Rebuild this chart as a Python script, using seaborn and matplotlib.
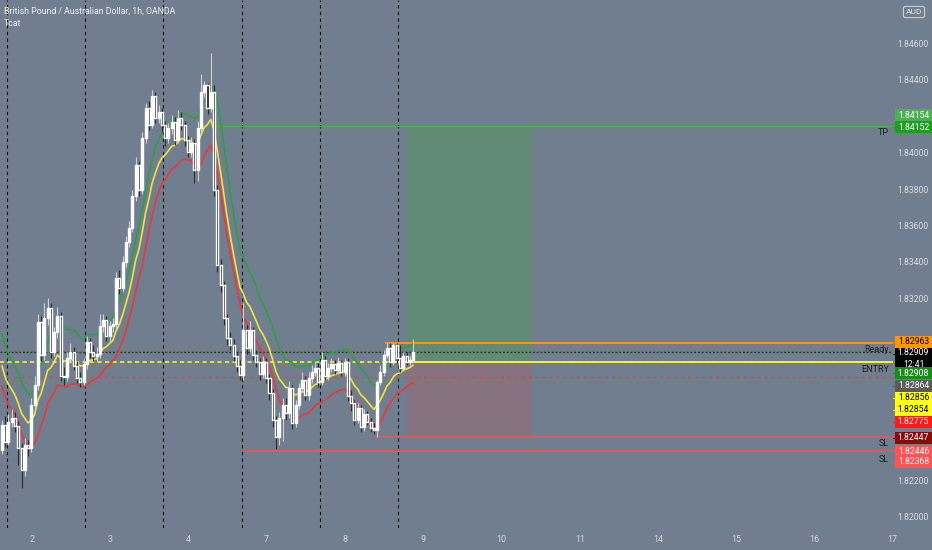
"""
GBP/AUD 1h candles with Tcat bands and a long-position box, TradingView style.
"""
import numpy as np
import pandas as pd
import matplotlib
matplotlib.use("Agg")
import matplotlib.pyplot as plt
from matplotlib.patches import Rectangle, FancyBboxPatch
import seaborn as sns

# ---------------------------------------------------------------------------
# Data
# ---------------------------------------------------------------------------
first_open = 1.82375
closes = [
    1.82511, 1.82417, 1.82527, 1.82549, 1.82505, 1.82385, 1.82264, 1.82401, 1.82385, 1.82621,
    1.82730, 1.83076, 1.82895, 1.83098, 1.83153, 1.82912, 1.83021, 1.83109, 1.82780, 1.82774,
    1.82879, 1.82912, 1.82835, 1.82769, 1.82747, 1.82846, 1.82966, 1.82912, 1.82890, 1.82901,
    1.83054, 1.83087, 1.82999, 1.83054, 1.83065, 1.83318, 1.83263, 1.83406, 1.83515, 1.83592,
    1.83768, 1.83938, 1.83801, 1.84086, 1.84251, 1.84158, 1.84317, 1.84196, 1.84229, 1.84158,
    1.84086, 1.84141, 1.84174, 1.84075, 1.84196, 1.84158, 1.84075, 1.84010, 1.84059, 1.83911,
    1.84141, 1.84339, 1.84377, 1.84251, 1.84339, 1.83801, 1.83389, 1.83279, 1.83098, 1.82988,
    1.82950, 1.82890, 1.82835, 1.82785, 1.83032, 1.82934, 1.83032, 1.82895, 1.82857, 1.82791,
    1.82857, 1.82769, 1.82686, 1.82538, 1.82445, 1.82549, 1.82621, 1.82577, 1.82714, 1.82522,
    1.82621, 1.82714, 1.82758, 1.82675, 1.82769, 1.82802, 1.82824, 1.82747, 1.82868, 1.82780,
    1.82824, 1.82846, 1.82813, 1.82851, 1.82802, 1.82857, 1.82670, 1.82632, 1.82538, 1.82604,
    1.82500, 1.82571, 1.82527, 1.82494, 1.82483, 1.82747, 1.82802, 1.82895, 1.82934, 1.82857,
    1.82950, 1.82879, 1.82824, 1.82890, 1.82857, 1.82868, 1.82909,
]
highs = [
    1.82540, 1.82560, 1.82570, 1.82600, 1.82580, 1.82530, 1.82410, 1.82440, 1.82430, 1.82660,
    1.82780, 1.83120, 1.83110, 1.83180, 1.83210, 1.83180, 1.83050, 1.83160, 1.83130, 1.82830,
    1.82910, 1.82960, 1.82940, 1.82860, 1.82800, 1.82880, 1.83000, 1.82990, 1.82950, 1.82940,
    1.83120, 1.83120, 1.83110, 1.83080, 1.83100, 1.83350, 1.83360, 1.83440, 1.83550, 1.83630,
    1.83800, 1.83980, 1.83960, 1.84120, 1.84280, 1.84290, 1.84350, 1.84340, 1.84270, 1.84250,
    1.84180, 1.84170, 1.84210, 1.84200, 1.84240, 1.84230, 1.84180, 1.84100, 1.84090, 1.84080,
    1.84180, 1.84440, 1.84400, 1.84390, 1.84553, 1.84380, 1.83830, 1.83420, 1.83300, 1.83120,
    1.83020, 1.82980, 1.82910, 1.82870, 1.83180, 1.83060, 1.83080, 1.83050, 1.82920, 1.82880,
    1.82890, 1.82880, 1.82790, 1.82710, 1.82560, 1.82580, 1.82660, 1.82660, 1.82750, 1.82730,
    1.82650, 1.82740, 1.82800, 1.82780, 1.82800, 1.82840, 1.82860, 1.82850, 1.82910, 1.82890,
    1.82850, 1.82880, 1.82870, 1.82885, 1.82870, 1.82880, 1.82880, 1.82700, 1.82650, 1.82630,
    1.82620, 1.82600, 1.82590, 1.82550, 1.82520, 1.82760, 1.82840, 1.82920, 1.82963, 1.82960,
    1.82963, 1.82960, 1.82950, 1.82910, 1.82910, 1.82890, 1.82980,
]
lows = [
    1.82350, 1.82390, 1.82400, 1.82500, 1.82470, 1.82290, 1.82166, 1.82230, 1.82340, 1.82360,
    1.82590, 1.82700, 1.82860, 1.82870, 1.83060, 1.82880, 1.82890, 1.82990, 1.82750, 1.82730,
    1.82750, 1.82850, 1.82810, 1.82740, 1.82720, 1.82730, 1.82820, 1.82880, 1.82860, 1.82860,
    1.82880, 1.83020, 1.82970, 1.82970, 1.83020, 1.83040, 1.83230, 1.83240, 1.83380, 1.83490,
    1.83570, 1.83740, 1.83770, 1.83780, 1.84060, 1.84130, 1.84140, 1.84170, 1.84170, 1.84120,
    1.84040, 1.84060, 1.84110, 1.84050, 1.84060, 1.84130, 1.84040, 1.83980, 1.83980, 1.83840,
    1.83850, 1.84110, 1.84310, 1.84220, 1.84230, 1.83770, 1.83350, 1.83240, 1.83060, 1.82950,
    1.82920, 1.82860, 1.82800, 1.82760, 1.82760, 1.82900, 1.82910, 1.82870, 1.82830, 1.82760,
    1.82770, 1.82740, 1.82650, 1.82500, 1.82380, 1.82400, 1.82420, 1.82540, 1.82550, 1.82490,
    1.82500, 1.82600, 1.82690, 1.82650, 1.82650, 1.82740, 1.82780, 1.82720, 1.82730, 1.82760,
    1.82760, 1.82800, 1.82790, 1.82790, 1.82780, 1.82780, 1.82640, 1.82590, 1.82510, 1.82520,
    1.82470, 1.82480, 1.82510, 1.82470, 1.82460, 1.82447, 1.82730, 1.82780, 1.82880, 1.82830,
    1.82840, 1.82850, 1.82800, 1.82810, 1.82840, 1.82840, 1.82850,
]
# Tcat bands: EMA of high / close / low, the outer two pushed out by a fixed pad
band_seed = {"high": 1.83020, "close": 1.82895, "low": 1.82840}
band_pad = {"high": 0.00065, "close": 0.0, "low": -0.00040}
band_span = 12

session_lines = [1.5, 25.5, 49.4, 73.6, 97.5, 121.4]
day_pos = [9.1, 33.1, 57.1, 81.1, 105.1, 129.1, 153.1, 177.1, 201.1, 225.1, 249.1, 272.8]
day_labels = ["2", "3", "4", "7", "8", "9", "10", "11", "14", "15", "16", "17"]

tp_price = 1.84152
ready_price = 1.82963
last_price = 1.82909
entry_price = 1.82856
entry2_price = 1.82854
stop_dash_price = 1.82775
sl1_price = 1.82447
sl2_price = 1.82368

# price-scale tags: text, colour, text colour
tags = [
    ("1.84154", "#4caf50", "white"),
    ("1.84152", "#1f9d1f", "white"),
    ("1.82963", "#ff9800", "black"),
    ("1.82909\n12:41", "#050505", "white"),
    ("1.82908", "#1a8a1a", "white"),
    ("1.82864", "#5a5a5a", "white"),
    ("1.82856", "#ffff1a", "black"),
    ("1.82854", "#ffff1a", "black"),
    ("1.82775", "#ff1a1a", "white"),
    ("1.82447", "#8b0a0a", "white"),
    ("1.82446", "#ff5252", "white"),
    ("1.82368", "#ff5252", "white"),
]
# scale labels not hidden behind a tag
tick_prices = [1.846, 1.844, 1.840, 1.838, 1.836, 1.834, 1.832, 1.822, 1.820]

# ---------------------------------------------------------------------------
# Layout
# ---------------------------------------------------------------------------
BG = "#707e90"
W, H = 932, 550
PLOT_W, PLOT_H = 893, 528
XLIM = (-0.6, 273.1)
YLIM = (1.81945, 1.84844)
# y pixel centres of the tags (TradingView stacks them)
tag_y = [115, 127, 342, 358.5, 373, 386, 398, 410, 422, 438, 451, 462]


def px_to_price(y):
    return YLIM[1] - y * (YLIM[1] - YLIM[0]) / PLOT_H


def price_to_px(p):
    return (YLIM[1] - p) * PLOT_H / (YLIM[1] - YLIM[0])


def px_to_unit(x):
    return XLIM[0] + x * (XLIM[1] - XLIM[0]) / PLOT_W


sns.set_theme(style="dark", rc={"axes.facecolor": BG, "figure.facecolor": BG})
plt.rcParams["font.family"] = ["Roboto", "DejaVu Sans"]

fig = plt.figure(figsize=(W / 100, H / 100), dpi=100)
ax = fig.add_axes([0, (H - PLOT_H) / H, PLOT_W / W, PLOT_H / H])
ax2 = fig.add_axes([PLOT_W / W, (H - PLOT_H) / H, (W - PLOT_W) / W, PLOT_H / H])
for a in (ax, ax2):
    a.set_facecolor(BG)
    for s in a.spines.values():
        s.set_visible(False)
ax.set_xlim(*XLIM)
ax.set_ylim(*YLIM)

# ---------------------------------------------------------------------------
# Position box (long)
# ---------------------------------------------------------------------------
bx0, bx1 = px_to_unit(407), px_to_unit(532)
ax.add_patch(Rectangle((bx0, entry_price), bx1 - bx0, tp_price - entry_price,
                       facecolor="#628b76", edgecolor="none", zorder=1))
ax.add_patch(Rectangle((bx0, sl1_price), bx1 - bx0, entry_price - sl1_price,
                       facecolor="#867281", edgecolor="none", zorder=1))

# session separators
for xs in session_lines:
    ax.axvline(xs, color="#111111", lw=0.8, ls=(0, (3, 3)), zorder=2)

# horizontal levels
ax.axhline(last_price + 0.00010, color="#e53935", lw=0.8, ls=(0, (2, 2)), zorder=2)
ax.axhline(last_price, color="#1d3a20", lw=0.9, ls=(0, (1.5, 1.5)), zorder=2)
ax.axhline(entry_price, color="#ffee33", lw=1.2, ls=(0, (2.5, 2)), zorder=2)
ax.axhline(stop_dash_price, color="#ff3b30", lw=1.0, ls=(0, (2.5, 2.5)), zorder=2)
ax.hlines(tp_price, px_to_unit(213), XLIM[1], color="#46b34a", lw=0.9, zorder=2)
ax.hlines(ready_price, px_to_unit(385), XLIM[1], color="#ff9800", lw=1.4, zorder=2)
ax.hlines(entry2_price, px_to_unit(385), XLIM[1], color="#ffee33", lw=1.4, zorder=2)
ax.hlines(sl1_price, px_to_unit(376), XLIM[1], color="#f05555", lw=1.2, zorder=2)
ax.hlines(sl2_price, px_to_unit(243), XLIM[1], color="#f05555", lw=1.2, zorder=2)

# ---------------------------------------------------------------------------
# Tcat bands
# ---------------------------------------------------------------------------
idx = np.arange(len(closes))
band = {}
for key, src in (("high", highs), ("close", closes), ("low", lows)):
    s = pd.Series([band_seed[key]] + list(src))
    band[key] = s.ewm(span=band_span, adjust=False).mean().iloc[1:].to_numpy() + band_pad[key]
long_df = pd.concat([pd.DataFrame({"i": idx, "value": band[k], "band": k})
                     for k in ("high", "close", "low")])
sns.lineplot(data=long_df, x="i", y="value", hue="band", ax=ax, legend=False,
             palette={"high": "#2f9e44", "close": "#f2e33a", "low": "#e8393a"},
             linewidth=1.2, zorder=3)

# ---------------------------------------------------------------------------
# Candles
# ---------------------------------------------------------------------------
c = np.array(closes)
o = np.array([first_open] + closes[:-1])
hi = np.array(highs)
lo = np.array(lows)
up = c >= o
ax.vlines(idx[up], lo[up], hi[up], color="#d0d0d0", lw=0.8, zorder=4)
ax.vlines(idx[~up], lo[~up], hi[~up], color="#2b2b2b", lw=0.8, zorder=4)
body = np.maximum(np.abs(c - o), 0.00004)
ax.bar(idx[up], body[up], bottom=np.minimum(o, c)[up], width=0.62,
       color="#f4f4f4", zorder=5)
ax.bar(idx[~up], body[~up], bottom=np.minimum(o, c)[~up], width=0.62,
       color="#0d0d0d", zorder=5)

# level captions
cap_x = px_to_unit(889)
for txt, ypx in (("TP", 132), ("Ready", 349), ("ENTRY", 369), ("SL", 443), ("SL", 459)):
    ax.text(cap_x, px_to_price(ypx), txt, ha="right", va="center",
            fontsize=6.5, color="#1c1f24", zorder=6)

# top-left legend
ax.text(0.004, 1 - 11 / PLOT_H, "British Pound / Australian Dollar, 1h, OANDA",
        transform=ax.transAxes, ha="left", va="center", fontsize=6.3, color="#eef1f4")
ax.text(0.004, 1 - 23 / PLOT_H, "Tcat", transform=ax.transAxes,
        ha="left", va="center", fontsize=6.3, color="#eef1f4")

# time axis
ax.set_xticks(day_pos, day_labels)
ax.set_yticks([])
ax.tick_params(axis="x", length=0, pad=5, labelsize=6.5, colors="#d3d8de")
ax.set_xlabel("")
ax.set_ylabel("")

# ---------------------------------------------------------------------------
# Price scale
# ---------------------------------------------------------------------------
ax2.set_xlim(0, W - PLOT_W)
ax2.set_ylim(PLOT_H, 0)
ax2.set_xticks([])
ax2.set_yticks([])
for p in tick_prices:
    ax2.text(19.5, price_to_px(p), f"{p:.5f}", ha="center", va="center",
             fontsize=6.2, color="#d8dde3", zorder=1)

for (txt, fc, tc), ypx in zip(tags, tag_y):
    two = "\n" in txt
    h = 21 if two else 11.5
    ax2.add_patch(Rectangle((1.5, ypx - h / 2), 37.5, h, facecolor=fc,
                            edgecolor="none", zorder=3))
    tick_y = ypx - 5 if two else ypx
    ax2.plot([0, 2.5], [tick_y, tick_y], color=fc, lw=0.8, zorder=3)
    ax2.text(20.5, ypx, txt, ha="center", va="center", fontsize=6.2,
             color=tc, zorder=4, linespacing=1.5)

ax2.add_patch(FancyBboxPatch((11, 7), 20, 10, boxstyle="round,pad=0.6,rounding_size=2",
                             facecolor="none", edgecolor="#c9ced6", lw=0.8, zorder=3))
ax2.text(21, 12, "AUD", ha="center", va="center", fontsize=6, color="#e3e7ec", zorder=4)

fig.savefig("out.png", dpi=100, facecolor=BG)
